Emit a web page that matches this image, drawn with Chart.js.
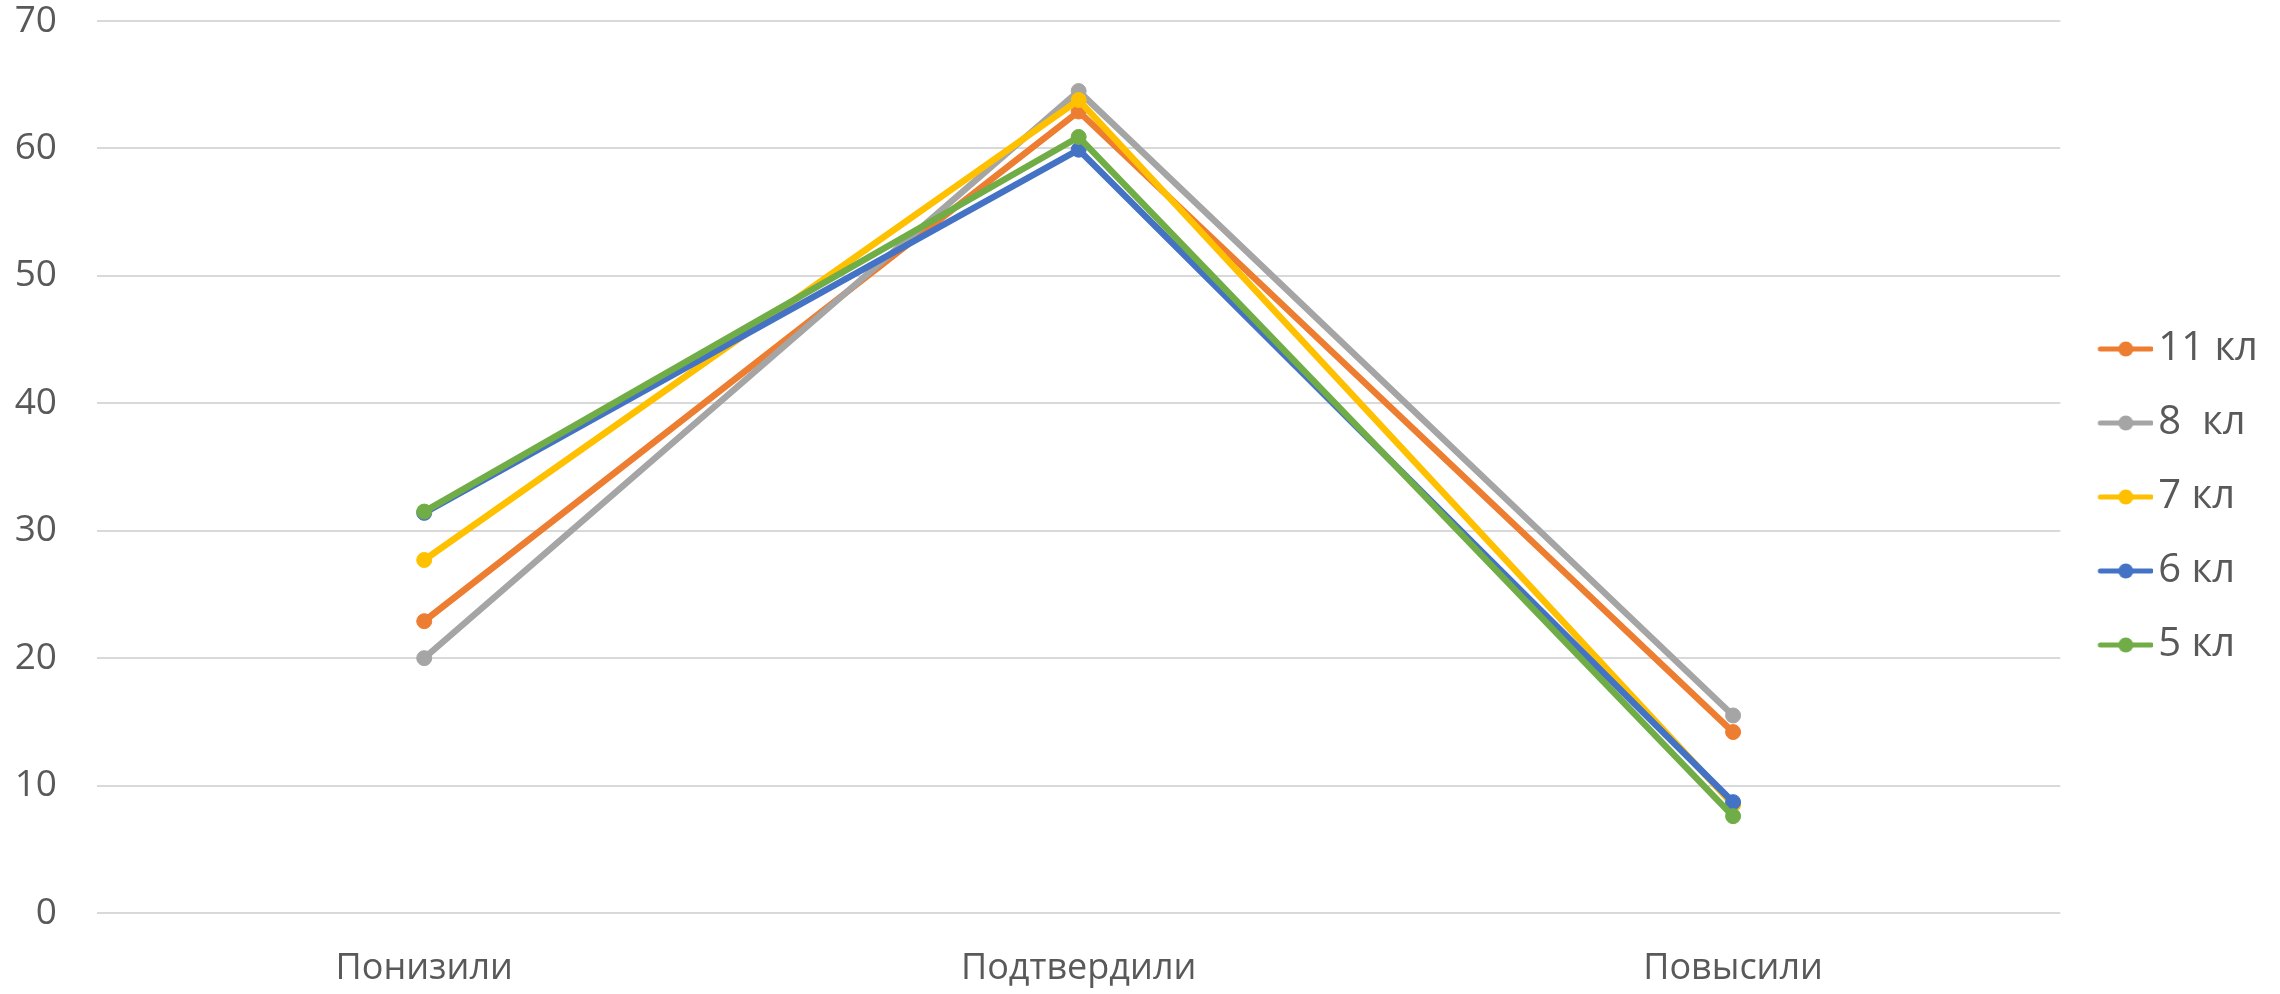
<html>
  <head>
    <meta charset="utf-8">
    <style>
      body { margin: 0; background: #ffffff; }
    </style>
  </head>
  <body>
    <canvas id="chart" width="2280" height="994"></canvas>

    <script src="https://cdn.jsdelivr.net/npm/chart.js@4.4.1/dist/chart.umd.min.js"></script>
    <script>
const categories = ["Понизили", "Подтвердили", "Повысили"];
const seriesNames = ["11 кл", "8  кл", "7 кл", "6 кл", "5 кл"];
const seriesColors = ["#ED7D31", "#A5A5A5", "#FFC000", "#4472C4", "#70AD47"];
const grade11 = [22.9, 62.9, 14.2];
const grade8 = [20.0, 64.5, 15.5];
const grade7 = [27.7, 63.8, 8.5];
const grade6 = [31.4, 59.9, 8.7];
const grade5 = [31.5, 60.9, 7.6];
const seriesValues = [grade11, grade8, grade7, grade6, grade5];
const yTicks = [0, 10, 20, 30, 40, 50, 60, 70];

const textColor = '#595959';
const fontFamily = '"Open Sans", "Noto Sans", sans-serif';

// legend marker: short line with a dot, shifted right so it sits close to the text
function legendIcon(color) {
  const c = document.createElement('canvas');
  c.width = 74;
  c.height = 18;
  const g = c.getContext('2d');
  g.strokeStyle = color;
  g.lineWidth = 5;
  g.lineCap = 'round';
  g.beginPath();
  g.moveTo(21, 9);
  g.lineTo(72, 9);
  g.stroke();
  g.fillStyle = color;
  g.beginPath();
  g.arc(46.5, 9, 7.5, 0, Math.PI * 2);
  g.fill();
  return c;
}

const datasets = seriesNames.map((name, i) => ({
  label: name,
  data: seriesValues[i],
  borderColor: seriesColors[i],
  backgroundColor: seriesColors[i],
  pointBackgroundColor: seriesColors[i],
  pointBorderColor: seriesColors[i],
  pointBorderWidth: 1,
  borderWidth: 6.5,
  pointRadius: 7.5,
  pointHoverRadius: 7.5,
  tension: 0,
  fill: false,
  order: seriesNames.length - 1 - i, // last series drawn on top
}));

const ctx = document.getElementById('chart').getContext('2d');
new Chart(ctx, {
  type: 'line',
  data: { labels: categories, datasets: datasets },
  options: {
    responsive: false,
    animation: false,
    devicePixelRatio: 1,
    layout: { padding: { left: 0, right: 12, top: 0, bottom: 0 } },
    scales: {
      x: {
        offset: true,
        grid: { display: false, drawTicks: false },
        border: { display: false },
        ticks: { color: textColor, padding: 34, font: { family: fontFamily, size: 36 } },
        afterFit: axis => { axis.height = 81; },
      },
      y: {
        min: 0,
        max: 70,
        afterBuildTicks: axis => { axis.ticks = yTicks.map(v => ({ value: v })); },
        grid: { color: '#d9d9d9', lineWidth: 2, drawTicks: false },
        border: { display: false },
        ticks: { color: textColor, padding: 40, font: { family: fontFamily, size: 37 } },
        afterFit: axis => {
          axis.width = 97;
          axis.paddingTop = 21;
          axis.paddingBottom = 0;
        },
      },
    },
    plugins: {
      tooltip: { enabled: false },
      legend: {
        position: 'right',
        labels: {
          color: textColor,
          font: { family: fontFamily, size: 40 },
          usePointStyle: true,
          pointStyleWidth: 44,
          padding: 34,
          sort: (a, b) => a.datasetIndex - b.datasetIndex,
          generateLabels: chart => {
            const items = Chart.defaults.plugins.legend.labels.generateLabels(chart);
            items.forEach(item => { item.pointStyle = legendIcon(seriesColors[item.datasetIndex]); });
            return items;
          },
        },
      },
    },
  },
});
    </script>
  </body>
</html>
